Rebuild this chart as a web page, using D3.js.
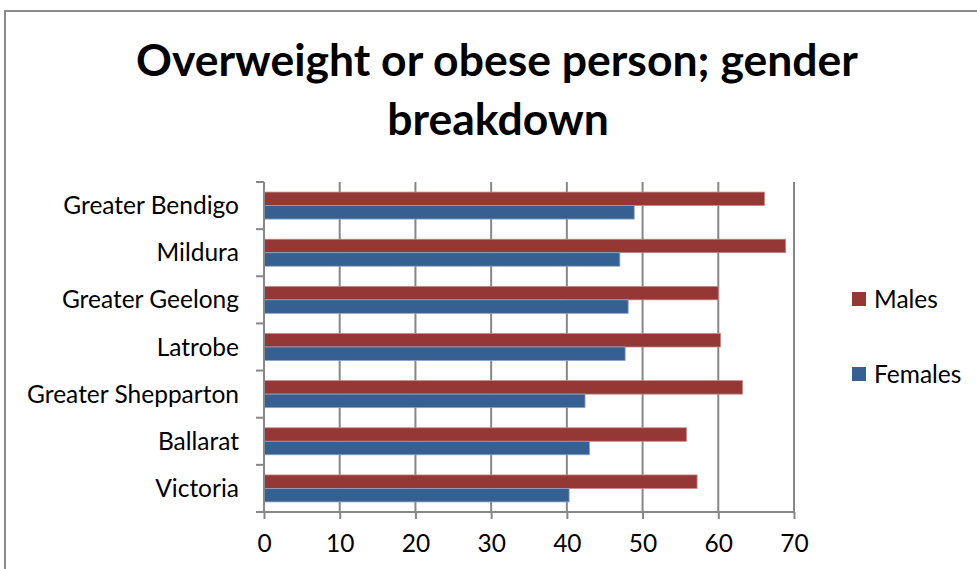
<!DOCTYPE html>
<html>
<head>
<meta charset="utf-8">
<script src="https://d3js.org/d3.v7.min.js"></script>
<style>
  body { margin: 0; background: #fff; }
  text { font-family: Lato, "Open Sans", sans-serif; fill: #000; }
</style>
</head>
<body>
<div id="chart"></div>
<script>
  // data, top to bottom as in the chart
  var categories = ["Greater Bendigo", "Mildura ", "Greater Geelong", "Latrobe", "Greater Shepparton", "Ballarat", "Victoria"];
  var series = ["Males", "Females"];
  var males = [66.1, 68.9, 60.0, 60.3, 63.2, 55.8, 57.2];
  var females = [48.9, 47.0, 48.1, 47.7, 42.4, 43.0, 40.3];
  var xTicks = [0, 10, 20, 30, 40, 50, 60, 70];
  var titleLines = ["Overweight or obese person; gender", "breakdown"];

  var W = 977, H = 569,
    plot = {left: 264, right: 794, top: 182, bottom: 512},
    colors = {"Males": "#953735", "Females": "#376092"},
    strokes = {"Males": "#c48b89", "Females": "#8ea5c6"},
    gridColor = "#878787",
    labelSize = "24.5px";

  var svg = d3.select("#chart").append("svg").attr("width", W).attr("height", H);

  // outer chart border
  svg.append("rect")
    .attr("x", 5).attr("y", 11)
    .attr("width", W + 10).attr("height", H + 10)
    .attr("fill", "none").attr("stroke", "#8a8a8a").attr("stroke-width", 2);

  // title, sized so the first line spans like the original
  var t1 = svg.append("text")
    .attr("x", 497).attr("y", 76)
    .attr("text-anchor", "middle")
    .style("font-weight", "bold").style("font-size", "40px")
    .text(titleLines[0]);
  var fs = 40 * 722 / t1.node().getComputedTextLength();
  t1.style("font-size", fs + "px");
  svg.append("text")
    .attr("x", 498).attr("y", 135)
    .attr("text-anchor", "middle")
    .style("font-weight", "bold").style("font-size", fs + "px")
    .text(titleLines[1]);

  var x = d3.scaleLinear().domain([0, 70]).range([plot.left, plot.right]);
  var y = d3.scaleBand().domain(categories).range([plot.top, plot.bottom])
    .paddingInner(0.427).paddingOuter(0.2135);
  var y1 = d3.scaleBand().domain(series).range([0, y.bandwidth()]);

  // vertical gridlines
  svg.append("g").selectAll("line")
    .data(xTicks.slice(1))
    .enter().append("line")
    .attr("x1", function (d) { return x(d); })
    .attr("x2", function (d) { return x(d); })
    .attr("y1", plot.top).attr("y2", plot.bottom)
    .attr("stroke", gridColor).attr("stroke-width", 2);

  // bars
  var rows = categories.map(function (c, i) {
    return {cat: c, vals: [{s: "Males", v: males[i]}, {s: "Females", v: females[i]}]};
  });
  var groups = svg.append("g").selectAll("g")
    .data(rows)
    .enter().append("g")
    .attr("transform", function (d) { return "translate(0," + y(d.cat) + ")"; });
  groups.selectAll("rect")
    .data(function (d) { return d.vals; })
    .enter().append("rect")
    .attr("x", x(0))
    .attr("y", function (d) { return y1(d.s); })
    .attr("width", function (d) { return x(d.v) - x(0); })
    .attr("height", y1.bandwidth())
    .attr("fill", function (d) { return colors[d.s]; })
    .attr("stroke", function (d) { return strokes[d.s]; })
    .attr("stroke-width", 0.8);

  // bottom axis
  var xAxis = svg.append("g")
    .attr("transform", "translate(0," + plot.bottom + ")")
    .call(d3.axisBottom(x).tickValues(xTicks).tickSize(7).tickPadding(16).tickSizeOuter(0));
  xAxis.select(".domain").attr("stroke", gridColor).attr("stroke-width", 2)
    .attr("d", "M" + (plot.left - 8) + ",0H" + plot.right);
  xAxis.selectAll(".tick line").attr("stroke", gridColor).attr("stroke-width", 2);
  xAxis.selectAll(".tick text").style("font-size", labelSize).attr("fill", "#000")
    .style("font-family", "Lato, sans-serif");

  // left axis with ticks at category boundaries
  var yAxis = svg.append("g");
  yAxis.append("line")
    .attr("x1", plot.left).attr("x2", plot.left)
    .attr("y1", plot.top).attr("y2", plot.bottom)
    .attr("stroke", gridColor).attr("stroke-width", 2);
  yAxis.selectAll(".bt")
    .data(d3.range(categories.length))
    .enter().append("line")
    .attr("x1", plot.left - 8).attr("x2", plot.left)
    .attr("y1", function (i) { return y(categories[i]) - y.step() * y.paddingInner() / 2; })
    .attr("y2", function (i) { return y(categories[i]) - y.step() * y.paddingInner() / 2; })
    .attr("stroke", gridColor).attr("stroke-width", 2);
  yAxis.selectAll("text")
    .data(categories)
    .enter().append("text")
    .attr("x", 239)
    .attr("y", function (d) { return y(d) + y.bandwidth() / 2; })
    .attr("dy", "0.35em")
    .attr("text-anchor", "end")
    .style("font-size", labelSize)
    .text(function (d) { return d; });

  // legend
  var legend = svg.append("g").selectAll("g")
    .data(series)
    .enter().append("g")
    .attr("transform", function (d, i) { return "translate(852," + (292 + i * 75) + ")"; });
  legend.append("rect")
    .attr("width", 14).attr("height", 14)
    .attr("fill", function (d) { return colors[d]; });
  legend.append("text")
    .attr("x", 22).attr("y", 7).attr("dy", "0.35em")
    .style("font-size", labelSize)
    .text(function (d) { return d; });
</script>
</body>
</html>
